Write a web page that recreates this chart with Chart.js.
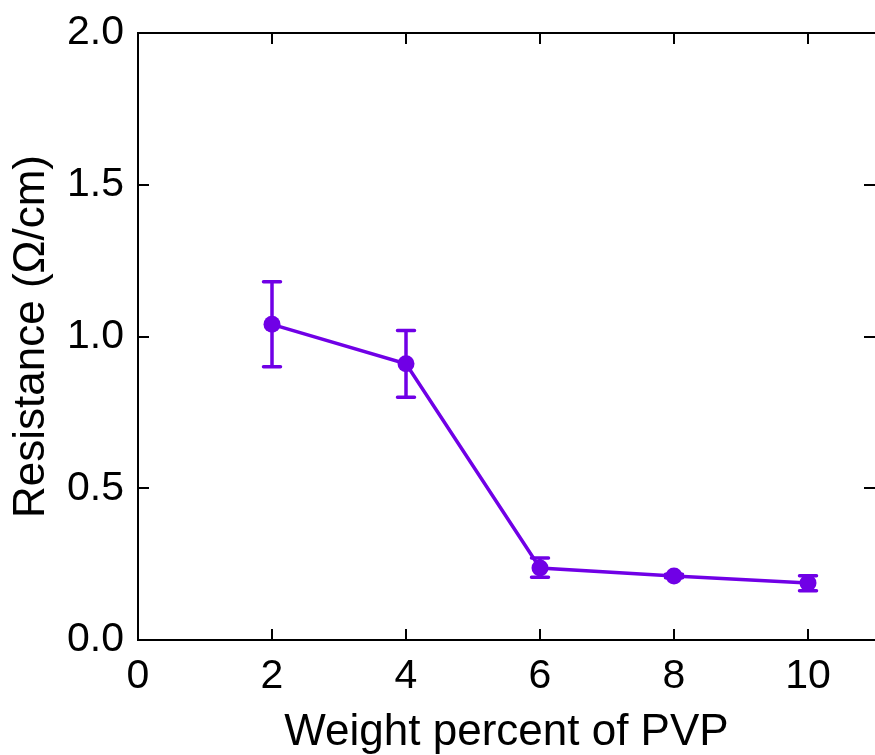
<!DOCTYPE html>
<html>
<head>
<meta charset="utf-8">
<script src="https://cdn.jsdelivr.net/npm/chart.js@4"></script>
<style>
html,body{margin:0;padding:0;background:#fff;overflow:hidden;}
canvas{display:block;}
</style>
</head>
<body>
<canvas id="c" width="875" height="755"></canvas>
<script>
const weightPercent = [2, 4, 6, 8, 10];
const resistance = [1.04, 0.91, 0.237, 0.211, 0.188];
const errorPlus = [0.14, 0.11, 0.033, 0.006, 0.024];
const errorMinus = [0.14, 0.11, 0.03, 0.006, 0.026];
const yTicks = [0, 0.5, 1.0, 1.5, 2.0];
const xTicks = [0, 2, 4, 6, 8, 10];

const PURPLE = 'rgb(112,0,230)';
const FONT = 'Liberation Sans, Arial, sans-serif';

const errorBars = {
  id: 'errorBars',
  afterDatasetsDraw(chart) {
    const ctx = chart.ctx, xs = chart.scales.x, ys = chart.scales.y;
    ctx.save();
    ctx.strokeStyle = PURPLE;
    ctx.lineWidth = 3.5;
    ctx.lineCap = 'round';
    weightPercent.forEach((xv, i) => {
      const x = xs.getPixelForValue(xv);
      const yt = ys.getPixelForValue(resistance[i] + errorPlus[i]);
      const yb = ys.getPixelForValue(resistance[i] - errorMinus[i]);
      ctx.beginPath();
      ctx.moveTo(x, yt); ctx.lineTo(x, yb);
      ctx.moveTo(x - 8.5, yt); ctx.lineTo(x + 8.5, yt);
      ctx.moveTo(x - 8.5, yb); ctx.lineTo(x + 8.5, yb);
      ctx.stroke();
    });
    ctx.restore();
  }
};

const frame = {
  id: 'frame',
  afterDraw(chart) {
    const ctx = chart.ctx, a = chart.chartArea, xs = chart.scales.x, ys = chart.scales.y;
    ctx.save();
    ctx.strokeStyle = '#000';
    ctx.lineWidth = 2;
    ctx.beginPath();
    ctx.moveTo(a.right, a.top); ctx.lineTo(a.left, a.top);
    ctx.lineTo(a.left, a.bottom); ctx.lineTo(a.right, a.bottom);
    const L = 11;
    xTicks.forEach(v => {
      const x = Math.round(xs.getPixelForValue(v));
      if (v === 0) return;
      ctx.moveTo(x, a.bottom); ctx.lineTo(x, a.bottom - L);
      ctx.moveTo(x, a.top); ctx.lineTo(x, a.top + L);
    });
    yTicks.forEach(v => {
      const y = Math.round(ys.getPixelForValue(v));
      if (v === 0 || v === 2) return;
      ctx.moveTo(a.left, y); ctx.lineTo(a.left + L, y);
      ctx.moveTo(a.right, y); ctx.lineTo(a.right - L, y);
    });
    ctx.stroke();
    ctx.restore();
  }
};

new Chart(document.getElementById('c'), {
  type: 'line',
  data: {
    datasets: [{
      data: weightPercent.map((x, i) => ({x, y: resistance[i]})),
      borderColor: PURPLE,
      backgroundColor: PURPLE,
      borderWidth: 3.5,
      pointRadius: 8.5,
      pointBorderWidth: 0,
      pointBackgroundColor: PURPLE,
      tension: 0
    }]
  },
  options: {
    responsive: false,
    animation: false,
    layout: { autoPadding: false, padding: { top: 33, right: 0, left: 0, bottom: 0 } },
    plugins: { legend: { display: false }, tooltip: { enabled: false } },
    scales: {
      x: {
        type: 'linear', min: 0, max: 11,
        grid: { display: false, drawTicks: false },
        border: { display: false },
        ticks: {
          stepSize: 2, includeBounds: false, padding: 12, color: '#000',
          font: { family: FONT, size: 41 }
        },
        title: {
          display: true, text: 'Weight percent of PVP', color: '#000',
          font: { family: FONT, size: 44, lineHeight: 1 }, padding: { top: 0, bottom: 0 }
        },
        afterFit(s) { s.height = 115; s.paddingRight = 0; s.paddingLeft = 0; }
      },
      y: {
        min: 0, max: 2,
        grid: { display: false, drawTicks: false },
        border: { display: false },
        ticks: {
          stepSize: 0.5, padding: 14, color: '#000',
          font: { family: FONT, size: 41, lineHeight: 0.8 },
          callback: v => Number(v).toFixed(1)
        },
        title: {
          display: true, text: 'Resistance (Ω/cm)', color: '#000',
          font: { family: FONT, size: 44, lineHeight: 1 }, padding: { top: 10, bottom: 0 }
        },
        afterFit(s) { s.width = 138; s.paddingTop = 0; s.paddingBottom = 0; }
      }
    }
  },
  plugins: [errorBars, frame]
});
</script>
</body>
</html>
